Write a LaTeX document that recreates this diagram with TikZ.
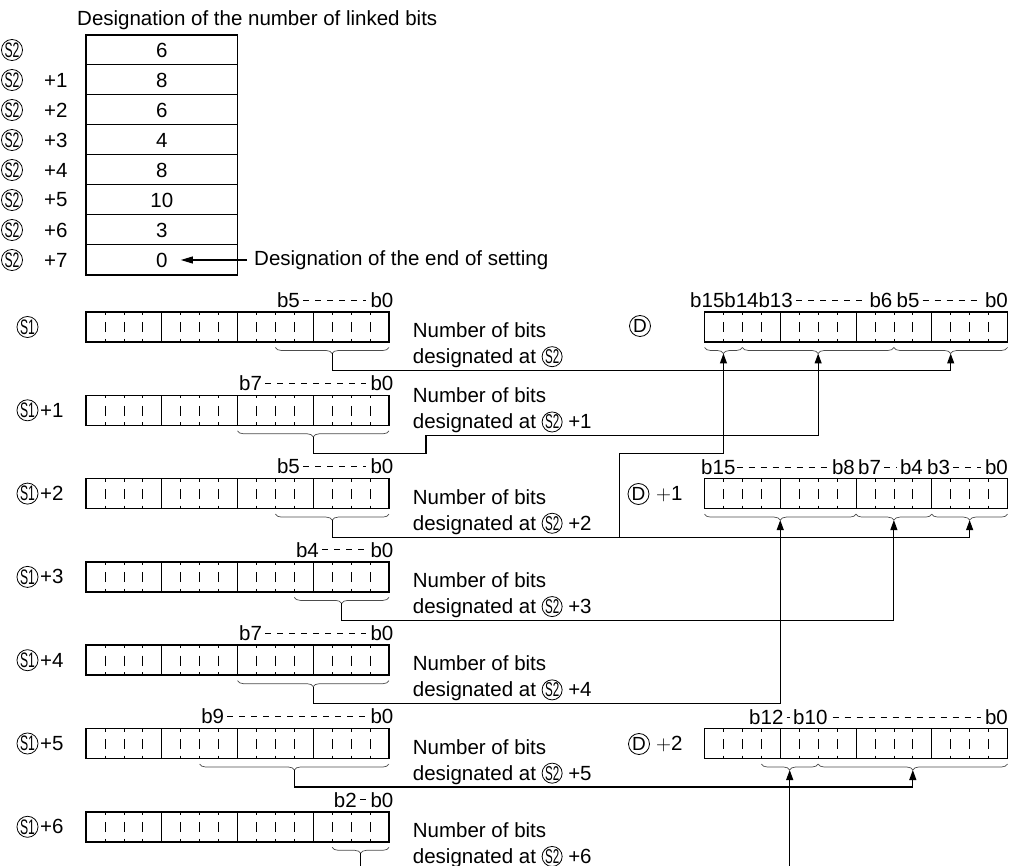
\documentclass[tikz,border=0pt]{standalone}
\usepackage{fontspec}
\setmainfont{Liberation Sans}
\usepackage{graphicx}
\usetikzlibrary{arrows.meta,decorations.pathreplacing,calc}

\newcommand{\cS}[1]{\tikz[baseline=(cc.base)]\node[draw,circle,line width=0.8pt,inner sep=0pt,minimum size=19pt](cc){\fontsize{20}{20}\selectfont\scalebox{0.58}[1]{S#1}};}

\tikzset{
  reg/.style={draw,line width=1.5pt,minimum width=303pt,minimum height=30pt,inner sep=0pt,outer sep=0pt,anchor=north west},
  cell/.style={draw,line width=1pt,minimum width=151.7pt,minimum height=30pt,inner sep=0pt,outer sep=0pt,anchor=north west},
  circ/.style={draw,circle,line width=0.8pt,inner sep=0pt,minimum size=20pt,font=\fontsize{21}{21}\selectfont},
  nib/.style={line width=1pt},
  tik/.style={line width=0.7pt},
  brc/.style={decorate,decoration={brace,mirror,amplitude=6pt},line width=0.7pt,black!70},
  link/.style={line width=1.1pt},
  arr/.style={link,-{Triangle[length=10pt,width=7pt]}},
  dsh/.style={line width=0.9pt,dash pattern=on 6pt off 6pt},
  lbl/.style={inner sep=0pt},
}

% 16-bit register: nibble lines and bit ticks
\newcommand{\bitreg}[3]{%
  \node[reg] (#1) at (#2,#3) {};
  \foreach \i in {1,...,15}{
    \pgfmathtruncatemacro{\m}{mod(\i,4)}
    \ifnum\m=0
      \draw[nib] ($(#1.north west)+(\i*18.9375,0)$) -- ++(0,30);
    \else
      \draw[tik] ($(#1.north west)+(\i*18.9375,0)$) -- ++(0,3) ++(0,7.5) -- ++(0,10) ++(0,6.5) -- ++(0,3);
    \fi
  }
}

\begin{document}
\begin{tikzpicture}[x=1pt,y=-1pt,font=\fontsize{20.5}{26}\selectfont]
\useasboundingbox (0,0) rectangle (1010,866);

% table of bit counts
\node[lbl,anchor=base west] (ttl) at (77,26) {Designation of the number of linked bits};
\foreach \v [count=\i from 0] in {6,8,6,4,8,10,3,0}{
  \node[cell] (v\i) at (86,{35+30*\i}) {\v};
  \node[circ] (q\i) at (12,{50+30*\i}) {\scalebox{0.58}[1]{S2}};
  \ifnum\i>0 \node[lbl,anchor=west] (w\i) at (44,{50+30*\i}) {+\i}; \fi
}
\draw[line width=1.5pt] (v0.north west) rectangle (v7.south east);
\node[lbl,anchor=west] (ends) at (254,260) {Designation of the end of setting};
\coordinate (zero) at ($(v7.center)+(19,0)$);
\draw[link,-{Triangle[length=12pt,width=7pt]}] ([xshift=-7pt]ends.west) -- (zero);

% source words
\foreach \k/\n in {0/5,1/7,2/5,3/4,4/7,5/9,6/2}{
  \pgfmathsetmacro{\T}{312+83.3*\k}
  \pgfmathsetmacro{\L}{86+(15-\n)*18.9375}
  \bitreg{s\k}{86}{\T}
  \node[circ] (c\k) at (27.5,{\T+15}) {\scalebox{0.58}[1]{S1}};
  \ifnum\k>0 \node[lbl,anchor=west] (p\k) at (40,{\T+15}) {+\k}; \fi
  \node[lbl,anchor=west] (hb\k) at ({\L+1.5},{\T-12}) {b\n};
  \node[lbl,anchor=east] (lb\k) at (393.5,{\T-12}) {b0};
  \draw[dsh] ([xshift=3pt]hb\k.east) -- ([xshift=-4pt]lb\k.west);
  \draw[brc] (\L,{\T+35.5}) -- (389,{\T+35.5});
  \coordinate (tp\k) at ({(\L+389)/2},{\T+41.5});
}
\foreach \k/\dy in {0/10.5,1/-7.5,2/10.5,3/10.5,4/10.5,5/10.5,6/10.5}{
  \node[lbl,anchor=north west,align=left] (nb\k) at (412.7,{312+83.3*\k+\dy}) {Number of bits\\designated at \cS{2}\ifnum\k>0{} +\k\fi};
}

% destination words
\bitreg{d0}{704.5}{312}
\bitreg{d1}{704.5}{478.6}
\bitreg{d2}{704.5}{728.5}
\node[circ,minimum size=21pt,font=\fontsize{19}{19}\selectfont] (dl0) at (640,326) {D};
\node[circ,minimum size=21pt,font=\fontsize{19}{19}\selectfont] (dl1) at (638.5,494) {D};
\node[lbl,anchor=west] (dp1) at (656,494) {$+$1};
\node[circ,minimum size=21pt,font=\fontsize{19}{19}\selectfont] (dl2) at (639,744) {D};
\node[lbl,anchor=west] (dp2) at (656,744) {$+$2};

\node[lbl,anchor=west] (d0a) at (690,300) {b15b14b13};
\node[lbl,anchor=east] (d0b) at (892.5,300) {b6};
\node[lbl,anchor=west] (d0c) at (896.5,300) {b5};
\node[lbl,anchor=east] (d0d) at (1008,300) {b0};
\draw[dsh] ([xshift=3pt]d0a.east) -- ([xshift=-4pt]d0b.west);
\draw[dsh] ([xshift=3pt]d0c.east) -- ([xshift=-4pt]d0d.west);

\node[lbl,anchor=west] (d1a) at (701,467) {b15};
\node[lbl,anchor=east] (d1b) at (855,467) {b8};
\node[lbl,anchor=west] (d1c) at (858,467) {b7};
\node[lbl,anchor=east] (d1d) at (923,467) {b4};
\node[lbl,anchor=west] (d1e) at (927,467) {b3};
\node[lbl,anchor=east] (d1f) at (1008,467) {b0};
\draw[dsh] ([xshift=1pt]d1a.east) -- ([xshift=-2pt]d1b.west);
\draw[dsh] ([xshift=3pt]d1c.east) -- ([xshift=-3pt]d1d.west);
\draw[dsh] ([xshift=3pt]d1e.east) -- ([xshift=-4pt]d1f.west);

\node[lbl,anchor=west] (d2a) at (749,717) {b12};
\node[lbl,anchor=west] (d2b) at (793,717) {b10};
\node[lbl,anchor=east] (d2c) at (1008,717) {b0};
\draw[dsh] ([xshift=3pt]d2a.east) -- ([xshift=-3pt]d2b.west);
\draw[dsh] ([xshift=5pt]d2b.east) -- ([xshift=-4pt]d2c.west);

\foreach \a/\b/\y/\nm in {704.5/742.4/347.5/dt1, 742.4/893.9/347.5/dt2, 893.9/1007.5/347.5/dt3,
    704.5/856/514.1/et1, 856/931.75/514.1/et2, 931.75/1007.5/514.1/et3,
    761.3/818.1/764/ft1, 818.1/1007.5/764/ft2}{
  \draw[brc] (\a,\y) -- (\b,\y);
  \coordinate (\nm) at ({(\a+\b)/2},{\y+6});
}

% links
\coordinate (bot) at (0,866);
\coordinate (j2) at (619.3,537.1);
\draw[arr] (tp0) -- ++(0,17.2) -| (dt3);
\draw[arr] (tp1) -- ++(0,16.5) -| (426,435.3) -| (dt2);
\draw[arr] (tp2) -- ++(0,17) -| (et3);
\draw[arr] (j2) -- (619.3,453.3) -| (dt1);
\draw[arr] (tp3) -- ++(0,17.2) -| (et2);
\draw[arr] (tp4) -- ++(0,17.2) -| (et1);
\draw[arr] (tp5) -- ++(0,17) -| (ft2);
\draw[link] (tp6) -- (tp6 |- bot);
\draw[arr] (ft1 |- bot) -- (ft1);
\end{tikzpicture}
\end{document}
